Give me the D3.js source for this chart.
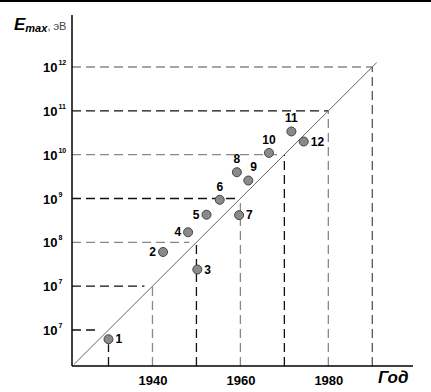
<!DOCTYPE html>
<html><head><meta charset="utf-8">
<script src="https://cdn.jsdelivr.net/npm/d3@7"></script>
<style>body{margin:0;background:#fff}svg{display:block}</style>
</head><body>
<svg id="c" width="431" height="392"></svg>
<script>
// ---- data ----
const pointIds   = ["1","2","3","4","5","6","7","8","9","10","11","12"];
const pointYears = [1930, 1942.4, 1950.2, 1948.1, 1952.3, 1955.3, 1959.7, 1959.2, 1961.8, 1966.5, 1971.6, 1974.4];
const pointLogE  = [5.79, 7.78, 7.38, 8.23, 8.63, 8.97, 8.62, 9.6, 9.41, 10.04, 10.53, 10.3];
const labelSide  = ["r","l","r","l","l","t","r","t","tr","t","t","r"];
const yTickExp   = [12, 11, 10, 9, 8, 7, 6];
const yTickText  = ["12","11","10","9","8","7","7"];
const xTickLabels = [1940, 1960, 1980];
const guideYears = [1930, 1940, 1950, 1960, 1970, 1980, 1990];
const guideColorsV = ["#111","#888","#111","#888","#111","#888","#555"];
const guideColorsH = ["#888","#111","#888","#111","#888","#111","#111"];
const guideGapH    = [0, 0, 6, 5, 7, 8, 13];

const svg = d3.select("#c");
const x = d3.scaleLinear().domain([1930, 1990]).range([108.5, 372.3]);
const y = d3.scaleLog().domain([1e6, 1e12]).range([330, 67]);
const trendLog = yr => 12 - (1990 - yr) / 10;
const FONT = "'Liberation Sans', Arial, sans-serif";

svg.append("rect").attr("width",431).attr("height",392).attr("fill","#fff");
// top border
svg.append("line").attr("x1",0).attr("x2",431).attr("y1",1).attr("y2",1).attr("stroke","#000").attr("stroke-width",2);

const x0 = 72, yBase = 366;
const yearAtAxis = x.invert(x0);

// horizontal guides: from y-axis to diagonal
yTickExp.forEach((e, i) => {
  const yr = 1990 - (12 - e) * 10;
  svg.append("line").attr("x1", x0).attr("x2", x(yr) - guideGapH[i])
    .attr("y1", y(Math.pow(10, e))).attr("y2", y(Math.pow(10, e)))
    .attr("stroke", guideColorsH[i]).attr("stroke-width", 1.3).attr("stroke-dasharray", "9,5");
});
// vertical guides: from x-axis to diagonal (first one stops under point 1)
guideYears.forEach((yr, i) => {
  const top = i === 0 ? y(Math.pow(10, pointLogE[0])) + 5 : y(Math.pow(10, trendLog(yr)));
  svg.append("line").attr("x1", x(yr)).attr("x2", x(yr))
    .attr("y1", yBase).attr("y2", top)
    .attr("stroke", guideColorsV[i]).attr("stroke-width", 1.3).attr("stroke-dasharray", "9,5");
});

// diagonal
const yStart = yearAtAxis + 0.5, yEnd = 1991;
svg.append("line")
  .attr("x1", x(yStart)).attr("y1", y(Math.pow(10, trendLog(yStart))))
  .attr("x2", x(yEnd)).attr("y2", y(Math.pow(10, trendLog(yEnd))))
  .attr("stroke", "#666").attr("stroke-width", 1);

// axes lines
svg.append("line").attr("x1", x0).attr("x2", x0).attr("y1", 15).attr("y2", yBase).attr("stroke","#000").attr("stroke-width",1.5);
svg.append("line").attr("x1", x0).attr("x2", 413).attr("y1", yBase).attr("y2", yBase).attr("stroke","#000").attr("stroke-width",1.5);

// x tick labels via axis
const xAxis = svg.append("g").attr("transform", `translate(0,${yBase})`)
  .call(d3.axisBottom(x).tickValues(xTickLabels).tickSize(0).tickPadding(10).tickFormat(d3.format("d")));
xAxis.select(".domain").remove();
xAxis.selectAll("text").attr("font-family", FONT).attr("font-size", 13).attr("font-weight","bold").attr("fill","#000");

svg.append("text").attr("x", 378).attr("y", 383).attr("font-family", FONT)
  .attr("font-size", 17).attr("font-weight","bold").attr("font-style","italic").text("Год");

// y tick labels
yTickExp.forEach((e, i) => {
  const yy = y(Math.pow(10, e));
  const t = svg.append("text").attr("x", 43).attr("y", yy + 5).attr("font-family", FONT)
    .attr("font-weight","bold").attr("fill","#000");
  t.append("tspan").attr("font-size", 13).text("10");
  t.append("tspan").attr("font-size", 7).attr("dy", -7).attr("dx", 1).text(yTickText[i]);
});

// y title
const tt = svg.append("text").attr("x", 14).attr("y", 30).attr("font-family", FONT);
tt.append("tspan").attr("font-size", 17).attr("font-weight","bold").attr("font-style","italic").text("E");
tt.append("tspan").attr("font-size", 11).attr("font-weight","bold").attr("font-style","italic").attr("dy", 2).text("max");
tt.append("tspan").attr("font-size", 11).attr("fill","#444").attr("dy", -2).text(", эВ");

// points
const pts = pointIds.map((id, i) => ({id, yr: pointYears[i], e: Math.pow(10, pointLogE[i]), side: labelSide[i]}));
svg.selectAll("circle.pt").data(pts).enter().append("circle")
  .attr("class","pt").attr("cx", d => x(d.yr)).attr("cy", d => y(d.e)).attr("r", 4.5)
  .attr("fill", "#8a8a8a").attr("stroke", "#444").attr("stroke-width", 1);

const off = {r:[7,4,"start"], l:[-7,4,"end"], t:[0,-9,"middle"], tr:[2,-10,"start"]};
svg.selectAll("text.pl").data(pts).enter().append("text")
  .attr("class","pl")
  .attr("x", d => x(d.yr) + off[d.side][0])
  .attr("y", d => y(d.e) + off[d.side][1])
  .attr("text-anchor", d => off[d.side][2])
  .attr("font-family", FONT).attr("font-size", 12).attr("font-weight","bold").text(d => d.id);
</script>
</body></html>
